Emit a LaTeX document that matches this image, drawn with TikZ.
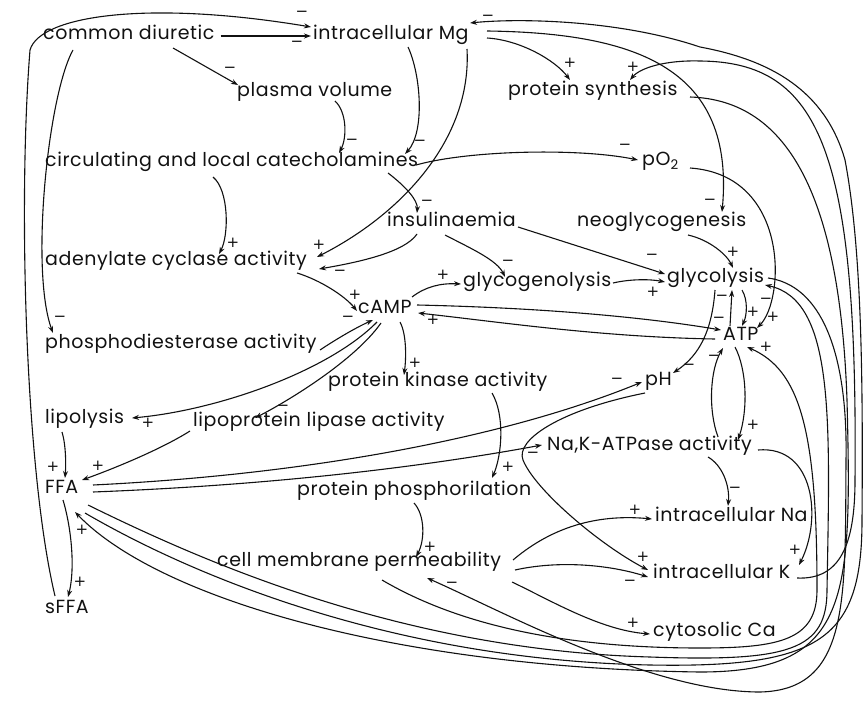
\documentclass[tikz,border=0pt]{standalone}
\usepackage{fontspec}
\setmainfont{Poppins}[LetterSpace=3.0]
\newfontfamily\signfont{DejaVu Sans}
\usepackage{tikz}
\usetikzlibrary{arrows.meta}
\definecolor{ink}{HTML}{111111}
\tikzset{
  term/.style={anchor=west, inner sep=0pt, text=ink, font=\fontsize{19}{22}\selectfont, text height=1.5ex, text depth=.3ex},
  link/.style={->, line width=1.1pt, color=ink},
  sgn/.style={inner sep=0pt, text=ink, font=\signfont\fontsize{15}{15}\selectfont}
}

\begin{document}
\begin{tikzpicture}[x=1pt, y=-1pt, >={Stealth[length=7pt,width=5pt]}]
  \useasboundingbox (0,0) rectangle (864,706);

  % Terms
  \node[term] (cd)   at (43,36)   {common diuretic};
  \node[term] (mg)   at (313,36)  {intracellular Mg};
  \node[term] (pv)   at (237,93)  {plasma volume};
  \node[term] (ps)   at (508,92)  {protein synthesis};
  \node[term] (cat)  at (45,163)  {circulating and local catecholamines};
  \node[term] (po)   at (642,162) {pO\textsubscript{2}};
  \node[term] (ins)  at (387,223) {insulinaemia};
  \node[term] (neo)  at (577,223) {neoglycogenesis};
  \node[term] (ac)   at (45,262)  {adenylate cyclase activity};
  \node[term] (camp) at (358,310) {cAMP};
  \node[term] (gly)  at (463,283) {glycogenolysis};
  \node[term] (glyc) at (667,279) {glycolysis};
  \node[term] (pd)   at (45,345)  {phosphodiesterase activity};
  \node[term] (atp)  at (723,337) {ATP};
  \node[term] (pk)   at (328,383) {protein kinase activity};
  \node[term] (ph)   at (645,382) {pH};
  \node[term] (lip)  at (45,420)  {lipolysis};
  \node[term] (lpl)  at (193,423) {lipoprotein lipase activity};
  \node[term] (nak)  at (547,447) {Na,K-ATPase activity};
  \node[term] (ffa)  at (45,490)  {FFA};
  \node[term] (pp)   at (297,492) {protein phosphorilation};
  \node[term] (na)   at (655,518) {intracellular Na};
  \node[term] (cmp)  at (217,563) {cell membrane permeability};
  \node[term] (k)    at (653,575) {intracellular K};
  \node[term] (sffa) at (45,610)  {sFFA};
  \node[term] (ca)   at (653,633) {cytosolic Ca};

  % Upper part
  \draw[link] ([shift={(10,-14)}]sffa.west) .. controls (25,470) and (18,200) .. (30,50)
    .. controls (40,15) and (150,0) .. ([shift={(-2,-9)}]mg.west);
  \draw[link] ([shift={(6,0)}]cd.east) -- ([shift={(-2,0)}]mg.west);
  \draw[link] ([shift={(130,12)}]cd.west) -- ([shift={(1,-8)}]pv.west);
  \draw[link] ([shift={(30,14)}]cd.west) .. controls (48,95) and (30,270) .. ([shift={(8,-12)}]pd.west);
  \draw[link] ([shift={(98,8)}]pv.west) .. controls (347,112) and (347,138) .. ([shift={(294,-10)}]cat.west);
  \draw[link] ([shift={(95,11)}]mg.west) .. controls (421,75) and (425,132) .. ([shift={(360,-9)}]cat.west);
  \draw[link] ([shift={(371,2)}]cat.west) .. controls (470,150) and (580,148) .. ([shift={(-4,-2)}]po.west);
  \draw[link] ([shift={(154,13)}]mg.west) .. controls (472,140) and (400,215) .. ([shift={(272,-5)}]ac.west);
  \draw[link] ([shift={(168,14)}]cat.west) .. controls (229,190) and (229,235) .. ([shift={(174,-8)}]ac.west);
  \draw[link] ([shift={(30,11)}]ins.west) .. controls (405,252) and (360,262) .. ([shift={(274,7)}]ac.west);
  \draw[link] ([shift={(343,10)}]cat.west) .. controls (405,186) and (418,200) .. ([shift={(30,-10)}]ins.west);
  \draw[link] ([shift={(174,2)}]mg.west) .. controls (520,40) and (555,60) .. ([shift={(62,-12)}]ps.west);
  \draw[link] ([shift={(174,-5)}]mg.west) .. controls (640,33) and (735,70) .. ([shift={(145,-11)}]neo.west);

  % cAMP
  \draw[link] ([shift={(252,11)}]ac.west) .. controls (320,280) and (345,296) .. ([shift={(-1,1)}]camp.west);
  \draw[link] ([shift={(275,5)}]pd.west) .. controls (335,340) and (355,328) .. ([shift={(15,10)}]camp.west);
  \draw[link] ([shift={(19,12)}]camp.west) .. controls (330,370) and (220,410) .. ([shift={(87,-2)}]lip.west);
  \draw[link] ([shift={(23,13)}]camp.west) .. controls (355,360) and (290,400) .. ([shift={(62,-5)}]lpl.west);
  \draw[link] ([shift={(42,12)}]camp.west) .. controls (407,335) and (406,360) .. ([shift={(76,-8)}]pk.west);
  \draw[link] ([shift={(54,-13)}]camp.west) .. controls (425,287) and (440,283) .. ([shift={(-2,1)}]gly.west);
  \draw[link] ([shift={(59,-5)}]camp.west) .. controls (550,308) and (650,318) .. ([shift={(-2,-7)}]atp.west);
  \draw[link] ([shift={(-8,2)}]atp.west) .. controls (600,337) and (500,322) .. ([shift={(60,3)}]camp.west);

  % Glycolysis and ATP
  \draw[link] ([shift={(58,12)}]ins.west) .. controls (470,248) and (497,260) .. ([shift={(42,-6)}]gly.west);
  \draw[link] ([shift={(131,4)}]ins.west) -- ([shift={(-2,-5)}]glyc.west);
  \draw[link] ([shift={(150,0)}]gly.west) .. controls (630,279) and (650,279) .. ([shift={(-2,3)}]glyc.west);
  \draw[link] ([shift={(111,12)}]neo.west) .. controls (710,240) and (727,255) .. ([shift={(66,-11)}]glyc.west);
  \draw[link] ([shift={(75,11)}]glyc.west) .. controls (748,300) and (747,315) .. ([shift={(19,-11)}]atp.west);
  \draw[link] ([shift={(7,-11)}]atp.west) -- ([shift={(65,11)}]glyc.west);
  \draw[link] ([shift={(48,11)}]glyc.west) .. controls (712,330) and (700,355) .. ([shift={(28,-9)}]ph.west);
  \draw[link] ([shift={(48,6)}]po.west) .. controls (790,175) and (785,300) .. ([shift={(34,-9)}]atp.west);
  \draw[link] ([shift={(12,10)}]atp.west) .. controls (747,370) and (748,410) .. ([shift={(191,-7)}]nak.west);
  \draw[link] ([shift={(171,-10)}]nak.west) .. controls (708,410) and (710,370) .. ([shift={(0,11)}]atp.west);

  % FFA
  \draw[link] ([shift={(17,12)}]lip.west) .. controls (66,445) and (66,465) .. ([shift={(20,-12)}]ffa.west);
  \draw[link] ([shift={(-3,8)}]lpl.west) .. controls (160,450) and (110,470) .. ([shift={(37,-10)}]ffa.west);
  \draw[link] ([shift={(18,10)}]ffa.west) .. controls (72,530) and (75,570) .. ([shift={(23,-13)}]sffa.west);
  \draw[link] ([shift={(48,-5)}]ffa.west) .. controls (300,475) and (500,440) .. ([shift={(-3,0)}]ph.west);
  \draw[link] ([shift={(48,2)}]ffa.west) .. controls (300,484) and (450,462) .. ([shift={(-5,-2)}]nak.west);

  % Lower part
  \draw[link] ([shift={(0,11)}]ph.west) .. controls (560,410) and (515,440) .. (523,460)
    .. controls (535,490) and (600,545) .. ([shift={(-5,-5)}]k.west);
  \draw[link] ([shift={(164,10)}]pk.west) .. controls (505,415) and (502,455) .. ([shift={(195,-14)}]pp.west);
  \draw[link] ([shift={(117,11)}]pp.west) .. controls (425,515) and (425,540) .. ([shift={(199,-6)}]cmp.west);
  \draw[link] ([shift={(161,10)}]nak.west) .. controls (722,465) and (730,485) .. ([shift={(73,-12)}]na.west);
  \draw[link] ([shift={(211,3)}]nak.west) .. controls (815,445) and (822,520) .. ([shift={(146,-10)}]k.west);
  \draw[link] ([shift={(296,-3)}]cmp.west) .. controls (560,520) and (610,515) .. ([shift={(-3,1)}]na.west);
  \draw[link] ([shift={(298,7)}]cmp.west) .. controls (560,560) and (610,565) .. ([shift={(-5,2)}]k.west);
  \draw[link] ([shift={(295,19)}]cmp.west) .. controls (550,600) and (600,630) .. ([shift={(-3,1)}]ca.west);

  % Long loops round the right side
  \draw[link] ([shift={(165,17)}]cmp.west) .. controls (450,620) and (550,648) .. (700,648)
    .. controls (780,648) and (817,640) .. (817,590) .. controls (817,430) and (800,370) .. ([shift={(24,10)}]atp.west);
  \draw[link] ([shift={(43,15)}]ffa.west) .. controls (200,560) and (400,650) .. (650,657)
    .. controls (790,662) and (827,650) .. (827,590) .. controls (830,420) and (835,300) .. ([shift={(98,6)}]glyc.west);
  \draw[link] ([shift={(101,-1)}]glyc.west) .. controls (820,285) and (848,350) .. (846,460)
    .. controls (845,600) and (850,690) .. (760,692) .. controls (650,692) and (500,610) .. ([shift={(210,15)}]cmp.west);
  \draw[link] ([shift={(182,5)}]ps.west) .. controls (790,100) and (840,200) .. (847,400)
    .. controls (852,600) and (850,672) .. (700,672) .. controls (400,668) and (160,600) .. ([shift={(30,22)}]ffa.west);
  \draw[link] ([shift={(40,23)}]ffa.west) .. controls (200,580) and (400,660) .. (650,665)
    .. controls (820,668) and (862,640) .. (862,520) .. controls (863,380) and (862,250) .. (845,160)
    .. controls (825,90) and (770,60) .. (700,47) .. controls (620,20) and (520,18) .. ([shift={(157,-13)}]mg.west);
  \draw[link] ([shift={(144,3)}]k.west) .. controls (840,580) and (855,545) .. (855,480)
    .. controls (858,150) and (820,62) .. (700,61) .. controls (665,60) and (640,68) .. ([shift={(122,-12)}]ps.west);

  % Signs
  \node[sgn] (m1)  at (302,14)  {−};
  \node[sgn] (m2)  at (297,44)  {−};
  \node[sgn] (m3)  at (488,18)  {−};
  \node[sgn] (m4)  at (230,70)  {−};
  \node[sgn] (m5)  at (352,142) {−};
  \node[sgn] (m6)  at (420,143) {−};
  \node[sgn] (m7)  at (625,147) {−};
  \node[sgn] (m8)  at (427,203) {−};
  \node[sgn] (m9)  at (710,202) {−};
  \node[sgn] (m10) at (60,319)  {−};
  \node[sgn] (m11) at (340,273) {−};
  \node[sgn] (m12) at (348,319) {−};
  \node[sgn] (m13) at (283,408) {−};
  \node[sgn] (m14) at (508,263) {−};
  \node[sgn] (m15) at (652,257) {−};
  \node[sgn] (m16) at (719,320) {−};
  \node[sgn] (m17) at (722,298) {−};
  \node[sgn] (m18) at (766,301) {−};
  \node[sgn] (m19) at (714,358) {−};
  \node[sgn] (m20) at (689,367) {−};
  \node[sgn] (m21) at (617,381) {−};
  \node[sgn] (m22) at (533,455) {−};
  \node[sgn] (m23) at (452,585) {−};
  \node[sgn] (m24) at (630,583) {−};
  \node[sgn] (m25) at (735,490) {−};
  \node[sgn] (p1)  at (570,63)  {+};
  \node[sgn] (p2)  at (633,67)  {+};
  \node[sgn] (p3)  at (233,243) {+};
  \node[sgn] (p4)  at (319,245) {+};
  \node[sgn] (p5)  at (355,295) {+};
  \node[sgn] (p6)  at (443,275) {+};
  \node[sgn] (p7)  at (653,292) {+};
  \node[sgn] (p8)  at (733,252) {+};
  \node[sgn] (p9)  at (433,320) {+};
  \node[sgn] (p10) at (753,312) {+};
  \node[sgn] (p11) at (773,317) {+};
  \node[sgn] (p12) at (766,347) {+};
  \node[sgn] (p13) at (753,425) {+};
  \node[sgn] (p14) at (415,363) {+};
  \node[sgn] (p15) at (148,423) {+};
  \node[sgn] (p16) at (53,467)  {+};
  \node[sgn] (p17) at (98,466)  {+};
  \node[sgn] (p18) at (82,530)  {+};
  \node[sgn] (p19) at (80,582)  {+};
  \node[sgn] (p20) at (508,467) {+};
  \node[sgn] (p21) at (430,547) {+};
  \node[sgn] (p22) at (635,510) {+};
  \node[sgn] (p23) at (633,623) {+};
  \node[sgn] (p24) at (643,557) {+};
  \node[sgn] (p25) at (795,550) {+};
\end{tikzpicture}
\end{document}
